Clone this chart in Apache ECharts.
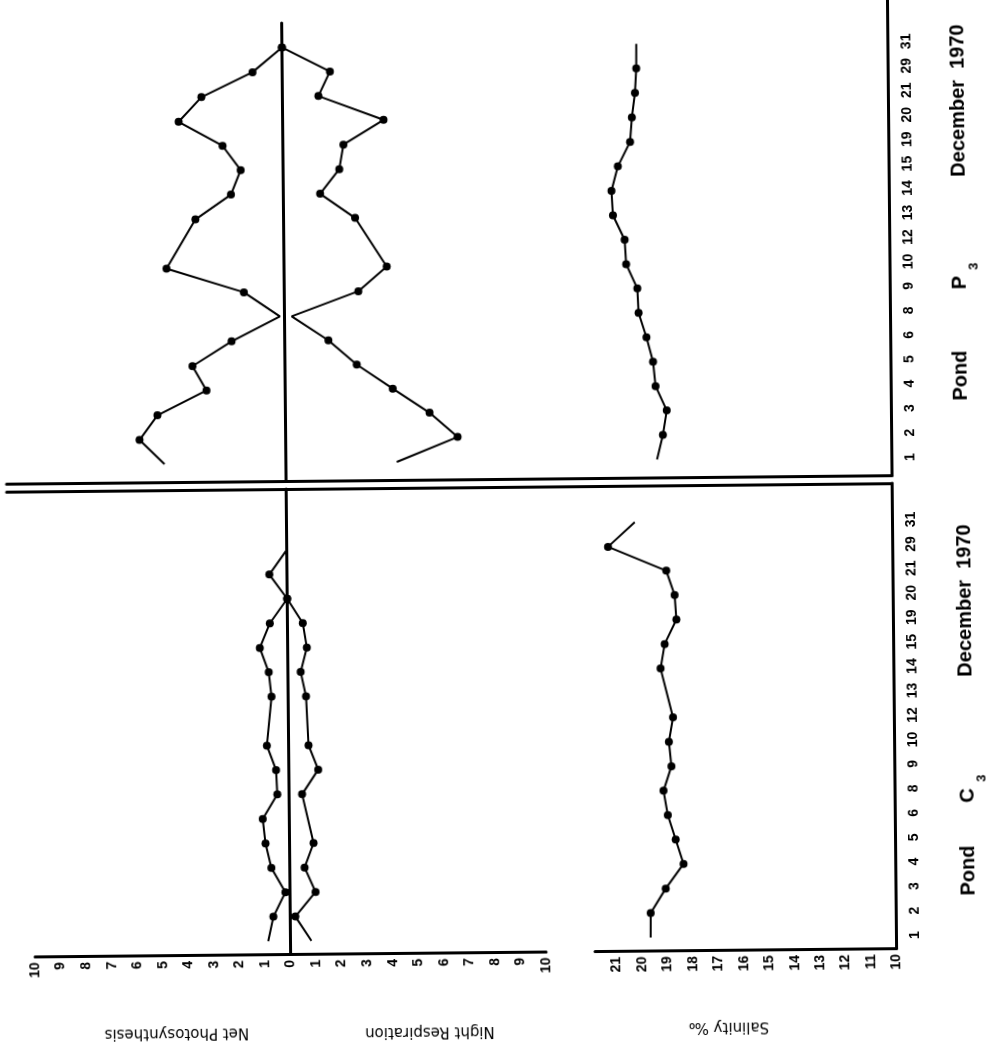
<!DOCTYPE html>
<html>
<head>
<meta charset="utf-8">
<script src="https://cdn.jsdelivr.net/npm/echarts@6/dist/echarts.min.js"></script>
<style>
  html, body { margin: 0; padding: 0; background: #ffffff; }
  #chart { width: 992px; height: 1049px; transform: rotate(-0.55deg); transform-origin: 50% 50%; }
</style>
</head>
<body>
<div id="chart"></div>
<script>
// Sampling dates, December 1970 (one row per date on the day axis)
const days = ['1', '2', '3', '4', '5', '6', '8', '9', '10', '12', '13', '14', '15', '19', '20', '21', '29', '31'];
const photoTicks = [-10, -9, -8, -7, -6, -5, -4, -3, -2, -1, 0, 1, 2, 3, 4, 5, 6, 7, 8, 9, 10];
const salinityTicks = [10, 11, 12, 13, 14, 15, 16, 17, 18, 19, 20, 21];

// Pond P3
const p3NetPhotosynthesis = [4.75, 5.72, 5.01, 3.08, 3.62, 2.08, 0.18, 1.58, 4.60, null, 3.45, 2.05, 1.66, 2.36, 4.07, 3.17, 1.16, 0];
const p3NightRespiration  = [4.34, 6.73, 5.64, 4.21, 2.81, 1.71, 0.28, 2.90, 4.02, null, 2.80, 1.44, 2.20, 2.37, 3.95, 1.41, 1.87, 0];
const p3Salinity          = [19.23, 18.99, 18.83, 19.26, 19.35, 19.60, 19.90, 19.94, 20.37, 20.42, 20.87, 20.92, 20.66, 20.17, 20.09, 19.96, 19.90, 19.89];

// Pond C3
const c3NetPhotosynthesis = [0.87, 0.66, 0.18, 0.72, 0.94, 1.04, 0.46, 0.50, 0.85, null, 0.65, 0.75, 1.09, 0.69, 0, 0.69, 0, null];
const c3NightRespiration  = [0.82, 0.20, 1.00, 0.58, 0.94, null, 0.51, 1.15, 0.78, null, 0.70, 0.50, 0.75, 0.60, 0, null, null, null];
const c3Salinity          = [19.66, 19.65, 19.05, 18.34, 18.64, 18.94, 19.10, 18.78, 18.87, 18.70, null, 19.17, 19.00, 18.53, 18.59, 18.91, 21.19, 20.13];

// Rows where the trace only passes through (no dot)
const p3PhotoOpen = [0, 6];
const p3RespOpen = [0, 6];
const p3SalOpen = [0, 17];
const c3PhotoOpen = [0, 16];
const c3RespOpen = [0];
const c3SalOpen = [0, 17];

const INK = '#000000';
const tickFont = { fontFamily: 'Liberation Sans', fontWeight: 'bold', fontSize: 14, color: INK };

function points(values, sign, open) {
  const out = [];
  values.forEach(function (v, i) {
    if (v === null) return;
    out.push({ value: [sign * v, i], symbol: open.indexOf(i) >= 0 ? 'none' : 'circle' });
  });
  return out;
}

function trace(data, xi, yi) {
  return {
    type: 'line', xAxisIndex: xi, yAxisIndex: yi, data: data,
    symbolSize: 8, showAllSymbol: true, clip: false,
    lineStyle: { color: INK, width: 2 }, itemStyle: { color: INK },
    emphasis: { disabled: true }, silent: true, z: 5
  };
}

const noAxisBits = { axisTick: { show: false }, splitLine: { show: false } };

// Day rows: C3 panel below the divider, P3 panel above it
const C3_DAYS = { min: -0.53, max: 18.49 };
const P3_DAYS_PHOTO = { min: -0.736, max: 18.0 };
const P3_DAYS_SAL = { min: -0.736, max: 18.855 };

function caption(text, x, y, font, angle) {
  return { type: 'text', x: x, y: y, rotation: angle,
    style: { text: text, font: font, fill: INK, align: 'center', verticalAlign: 'middle', textAlign: 'center', textVerticalAlign: 'middle' } };
}

const option = {
  animation: false,
  backgroundColor: '#ffffff',
  grid: [
    { left: 31, top: 487, width: 511, height: 465 },    // 0: C3 photosynthesis / respiration
    { left: 31, top: 21, width: 511, height: 458 },     // 1: P3 photosynthesis / respiration
    { left: 591, top: 487, width: 301.5, height: 465 }, // 2: C3 salinity
    { left: 591, top: 0, width: 301.5, height: 479 },   // 3: P3 salinity
    { left: 7, top: 479, width: 885.5, height: 8 }      // 4: double divider
  ],
  xAxis: [
    Object.assign({
      type: 'value', gridIndex: 0, min: -10, max: 10, interval: 1, position: 'bottom',
      axisLine: { onZero: false, lineStyle: { color: INK, width: 3 } },
      axisLabel: Object.assign({ rotate: 90, margin: 6, customValues: photoTicks,
        formatter: function (v) { return String(Math.abs(v)); } }, tickFont)
    }, noAxisBits),
    { type: 'value', gridIndex: 1, min: -10, max: 10, show: false, axisLine: { onZero: false } },
    Object.assign({
      type: 'value', gridIndex: 2, min: 10, max: 21.85, inverse: true, position: 'bottom',
      axisLine: { onZero: false, lineStyle: { color: INK, width: 3 } },
      axisLabel: Object.assign({ rotate: 90, margin: 6, customValues: salinityTicks }, tickFont)
    }, noAxisBits),
    { type: 'value', gridIndex: 3, min: 10, max: 21.85, inverse: true, show: false, axisLine: { onZero: false } },
    Object.assign({ type: 'value', gridIndex: 4, min: 0, max: 1, position: 'top',
      axisLine: { onZero: false, lineStyle: { color: INK, width: 3 } }, axisLabel: { show: false } }, noAxisBits),
    Object.assign({ type: 'value', gridIndex: 4, min: 0, max: 1, position: 'bottom',
      axisLine: { onZero: false, lineStyle: { color: INK, width: 3 } }, axisLabel: { show: false } }, noAxisBits)
  ],
  yAxis: [
    Object.assign({ type: 'value', gridIndex: 0, min: C3_DAYS.min, max: C3_DAYS.max,
      axisLine: { show: true, onZero: true, lineStyle: { color: INK, width: 3 } }, axisLabel: { show: false } }, noAxisBits),
    Object.assign({ type: 'value', gridIndex: 1, min: P3_DAYS_PHOTO.min, max: P3_DAYS_PHOTO.max,
      axisLine: { show: true, onZero: true, lineStyle: { color: INK, width: 3 } }, axisLabel: { show: false } }, noAxisBits),
    Object.assign({ type: 'value', gridIndex: 2, min: C3_DAYS.min, max: C3_DAYS.max, position: 'right',
      axisLine: { show: true, onZero: false, lineStyle: { color: INK, width: 3 } },
      axisLabel: Object.assign({ rotate: 90, margin: 12, customValues: days.map(function (d, i) { return i; }),
        formatter: function (v) { return days[Math.round(v)]; } }, tickFont) }, noAxisBits),
    Object.assign({ type: 'value', gridIndex: 3, min: P3_DAYS_SAL.min, max: P3_DAYS_SAL.max, position: 'right',
      axisLine: { show: true, onZero: false, lineStyle: { color: INK, width: 3 } },
      axisLabel: Object.assign({ rotate: 90, margin: 12, customValues: days.map(function (d, i) { return i; }),
        formatter: function (v) { return days[Math.round(v)]; } }, tickFont) }, noAxisBits),
    Object.assign({ type: 'value', gridIndex: 4, min: 0, max: 1, show: false, axisLine: { onZero: false } }, noAxisBits)
  ],
  series: [
    trace(points(c3NetPhotosynthesis, -1, c3PhotoOpen), 0, 0),
    trace(points(c3NightRespiration, 1, c3RespOpen), 0, 0),
    trace(points(p3NetPhotosynthesis, -1, p3PhotoOpen), 1, 1),
    trace(points(p3NightRespiration, 1, p3RespOpen), 1, 1),
    trace(points(c3Salinity, 1, c3SalOpen), 2, 2),
    trace(points(p3Salinity, 1, p3SalOpen), 3, 3)
  ],
  graphic: [
    // axis titles, printed upside down
    caption('Net Photosynthesis', 172, 1030, '15px "DejaVu Sans"', Math.PI),
    caption('Night Respiration', 425, 1031, '15px "DejaVu Sans"', Math.PI),
    caption('Salinity ‰', 724, 1029, '15px "DejaVu Sans"', Math.PI),
    // pond and month captions along the day axis
    caption('Pond', 965, 875, 'bold 20px "Liberation Sans"', Math.PI / 2),
    caption('C', 965, 800, 'bold 20px "Liberation Sans"', Math.PI / 2),
    caption('3', 979, 783, 'bold 13px "Liberation Sans"', Math.PI / 2),
    caption('December  1970', 964, 605, 'bold 20px "Liberation Sans"', Math.PI / 2),
    caption('Pond', 962, 380, 'bold 20px "Liberation Sans"', Math.PI / 2),
    caption('P', 962, 287, 'bold 20px "Liberation Sans"', Math.PI / 2),
    caption('3', 976, 271, 'bold 13px "Liberation Sans"', Math.PI / 2),
    caption('December  1970', 962, 105, 'bold 20px "Liberation Sans"', Math.PI / 2)
  ]
};

const chart = echarts.init(document.getElementById('chart'), null, { renderer: 'canvas' });
chart.setOption(option);
</script>
</body>
</html>
